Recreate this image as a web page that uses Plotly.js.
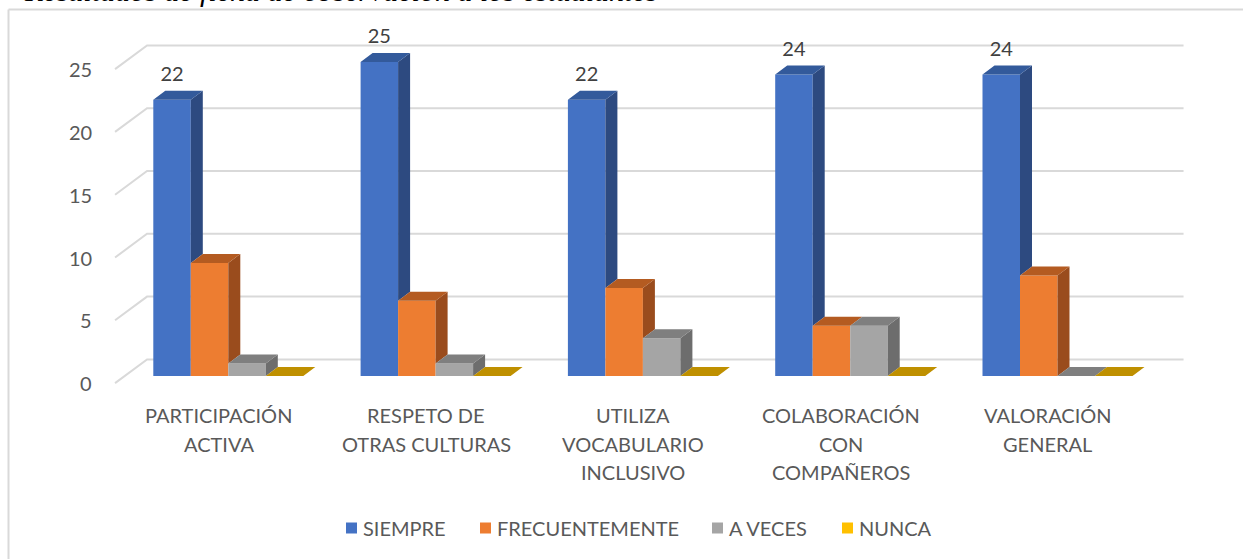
<!DOCTYPE html>
<html><head><meta charset="utf-8">
<script src="https://cdn.plot.ly/plotly-3.0.1.min.js"></script>
<style>html,body{margin:0;padding:0;background:#fff}</style>
</head><body><div id="chart" style="width:1243px;height:559px"></div>
<script>
// ---------------- data ----------------
const categories = ['PARTICIPACIÓN<br>ACTIVA', 'RESPETO DE<br>OTRAS CULTURAS', 'UTILIZA<br>VOCABULARIO<br>INCLUSIVO', 'COLABORACIÓN<br>CON<br>COMPAÑEROS', 'VALORACIÓN<br>GENERAL'];
const seriesNames = ['SIEMPRE', 'FRECUENTEMENTE', 'A VECES', 'NUNCA'];
const siempre = [22, 25, 22, 24, 24];
const frecuentemente = [9, 6, 7, 4, 8];
const aVeces = [1, 1, 3, 4, 0];
const nunca = [0, 0, 0, 0, 0];
const yTickValues = [0, 5, 10, 15, 20, 25];
const captionText = 'Resultados de ficha de observación a los estudiantes';

// ---------------- styles ----------------
const frontColors = ['#4472C4', '#ED7D31', '#A5A5A5', '#FFC000'];
const sideColors = ['#2D4A80', '#9A4C1D', '#6D6D6D', '#997300'];
const topColors = ['#335A9B', '#B45B21', '#7F7F7F', '#BF9000'];
const W = 1243, H = 559;
const SX = 207.3, SY = 12.56;          // px per category, px per unit
const X0 = 228.3, Y0 = 376;            // px of category 0 centre / value 0 on the bar front plane
const FONT = 'Lato, "Open Sans", sans-serif';
const legendTextLeft = [362, 496, 728, 858];   // legend layout (px)
const legendY = 528;

const allSeries = [siempre, frecuentemente, aVeces, nunca];
const nCat = categories.length, nSer = allSeries.length;
const barW = 37.5 / SX;
const barOffsets = allSeries.map((_, k) => (-75 + 37.5 * k) / SX);
const depth = {dx: 12 / SX, dy: 9 / SY};             // bar depth
const frontFloor = {dx: -9.6 / SX, dy: -7.1 / SY};   // front edge of floor relative to bar plane
const backWall = {dx: 22.4 / SX, dy: 16.6 / SY};     // back wall relative to bar plane
const xRange = [(0 - X0) / SX, (W - X0) / SX];
const yRange = [(Y0 - H) / SY, Y0 / SY];
const catIdx = categories.map((_, i) => i);

const traces = [];
// front faces (real bars)
allSeries.forEach((vals, k) => {
  traces.push({
    type: 'bar', name: seriesNames[k], x: catIdx, y: vals,
    offset: barOffsets[k], width: barW,
    marker: {color: frontColors[k], line: {width: 0}},
    hoverinfo: 'y+name', showlegend: false
  });
});
// side and top faces
allSeries.forEach((vals, k) => {
  const sx = [], sy = [], tx = [], ty = [];
  vals.forEach((v, i) => {
    const xl = i + barOffsets[k], xr = xl + barW;
    const nextV = (k + 1 < nSer) ? allSeries[k + 1][i] : 0;
    const h0 = Math.min(Math.max(nextV, 0), v);
    if (v > h0) {
      sx.push(xr, xr + depth.dx, xr + depth.dx, xr, xr, null);
      sy.push(h0, h0 + depth.dy, v + depth.dy, v, h0, null);
    }
    tx.push(xl, xl + depth.dx, xr + depth.dx, xr, xl, null);
    ty.push(v, v + depth.dy, v + depth.dy, v, v, null);
  });
  traces.push({type: 'scatter', mode: 'lines', x: sx, y: sy, fill: 'toself', fillcolor: sideColors[k],
    line: {width: 0, color: sideColors[k]}, showlegend: false, hoverinfo: 'skip'});
  traces.push({type: 'scatter', mode: 'lines', x: tx, y: ty, fill: 'toself', fillcolor: topColors[k],
    line: {width: 0, color: topColors[k]}, showlegend: false, hoverinfo: 'skip'});
});
// data labels for SIEMPRE
traces.push({
  type: 'scatter', mode: 'text', showlegend: false, hoverinfo: 'skip', cliponaxis: false,
  x: catIdx.map(i => i + barOffsets[0] + barW / 2),
  y: siempre.map(v => v + 24 / SY),
  text: siempre.map(String), textposition: 'middle center',
  textfont: {family: FONT, size: 20, color: '#404040'}
});

// gridlines (back wall + left wall) as shapes below the bars
const shapes = [];
const xL = -0.5, xR = nCat - 0.5;
yTickValues.forEach(v => {
  shapes.push({type: 'path', xref: 'x', yref: 'y', layer: 'below',
    path: `M${xL + frontFloor.dx},${v + frontFloor.dy} L${xL + backWall.dx},${v + backWall.dy} L${xR + backWall.dx},${v + backWall.dy}`,
    line: {color: '#D9D9D9', width: 2}});
});
// outer frame (left and top)
shapes.push({type: 'line', xref: 'paper', yref: 'paper', x0: 8.5 / W, x1: 8.5 / W, y0: 0, y1: 1 - 9.5 / H, line: {color: '#D9D9D9', width: 2}});
shapes.push({type: 'line', xref: 'paper', yref: 'paper', x0: 8.5 / W, x1: 1, y0: 1 - 9.5 / H, y1: 1 - 9.5 / H, line: {color: '#D9D9D9', width: 2}});

const annotations = [];
yTickValues.forEach(v => {
  annotations.push({xref: 'x', yref: 'y', x: xL + frontFloor.dx, y: v + frontFloor.dy, xanchor: 'right', yanchor: 'middle',
    xshift: -21, text: String(v), showarrow: false, font: {family: FONT, size: 20, color: '#595959'}});
});
categories.forEach((c, i) => {
  c.split('<br>').forEach((line, j) => {
    annotations.push({xref: 'x', yref: 'y', x: i + frontFloor.dx, y: frontFloor.dy, xanchor: 'center', yanchor: 'middle',
      yshift: -(32 + 28.5 * j), text: line, showarrow: false, font: {family: FONT, size: 20, color: '#595959'}});
  });
});
// custom legend (square + label)
seriesNames.forEach((name, k) => {
  const x0 = legendTextLeft[k] - 16;
  shapes.push({type: 'rect', xref: 'paper', yref: 'paper', x0: x0 / W, x1: (x0 + 11) / W,
    y0: 1 - (legendY + 5.5) / H, y1: 1 - (legendY - 5.5) / H, fillcolor: frontColors[k], line: {width: 0}});
  annotations.push({xref: 'paper', yref: 'paper', x: legendTextLeft[k] / W, y: 1 - legendY / H, xanchor: 'left', yanchor: 'middle',
    xshift: -1, text: name, showarrow: false, font: {family: FONT, size: 20, color: '#595959'}});
});
// caption of the figure, cut off at the top as in the source
annotations.push({xref: 'paper', yref: 'paper', x: 22 / W, y: 1 - 9 / H, xanchor: 'left', yanchor: 'bottom',
  text: captionText, showarrow: false, font: {family: '"Liberation Serif", serif', size: 30, color: '#000', style: 'italic'}});

const layout = {
  width: W, height: H, autosize: false,
  margin: {l: 0, r: 0, t: 0, b: 0, pad: 0},
  paper_bgcolor: '#fff', plot_bgcolor: '#fff',
  barmode: 'overlay',
  xaxis: {range: xRange, visible: false, fixedrange: true},
  yaxis: {range: yRange, visible: false, fixedrange: true},
  showlegend: false,
  shapes: shapes, annotations: annotations,
  font: {family: FONT}
};
Plotly.newPlot('chart', traces, layout, {displayModeBar: false, staticPlot: true});
</script></body></html>
